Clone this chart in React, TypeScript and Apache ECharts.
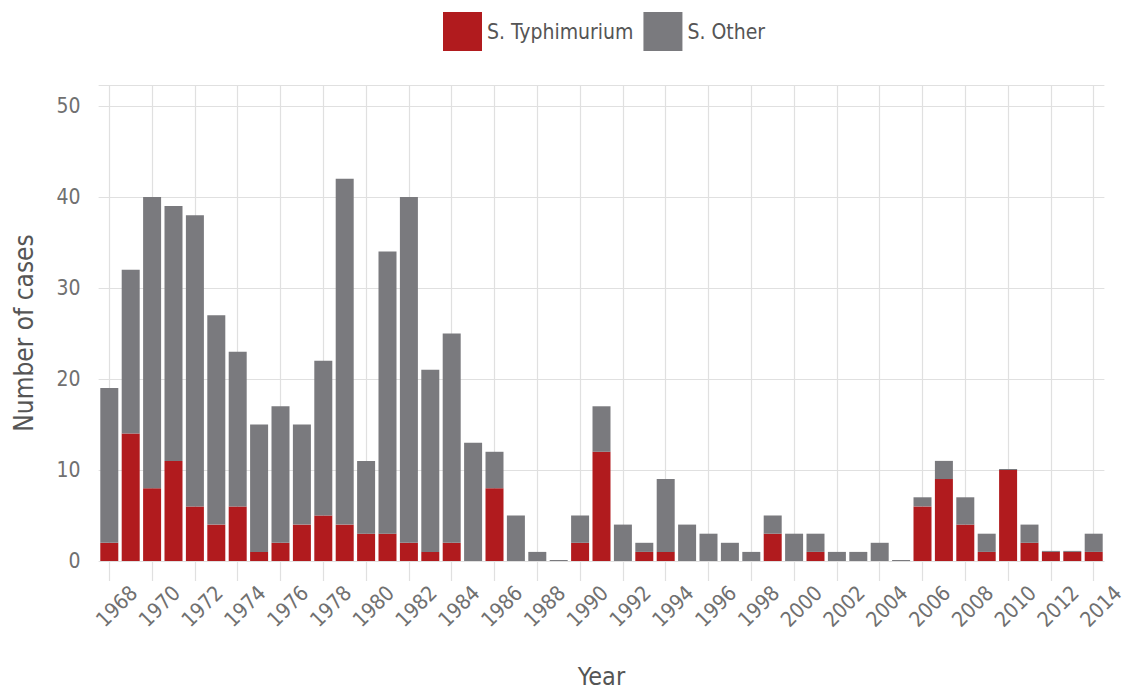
import React, { useEffect, useRef } from "react";
import * as echarts from "echarts";

const years = [
  "1968", "1969", "1970", "1971", "1972", "1973", "1974", "1975", "1976", "1977",
  "1978", "1979", "1980", "1981", "1982", "1983", "1984", "1985", "1986", "1987",
  "1988", "1989", "1990", "1991", "1992", "1993", "1994", "1995", "1996", "1997",
  "1998", "1999", "2000", "2001", "2002", "2003", "2004", "2005", "2006", "2007",
  "2008", "2009", "2010", "2011", "2012", "2013", "2014",
];

const typhimurium = [
  2, 14, 8, 11, 6, 4, 6, 1, 2, 4,
  5, 4, 3, 3, 2, 1, 2, 0, 8, 0,
  0, 0, 2, 12, 0, 1, 1, 0, 0, 0,
  0, 3, 0, 1, 0, 0, 0, 0, 6, 9,
  4, 1, 10, 2, 1, 1, 1,
];

const other = [
  17, 18, 32, 28, 32, 23, 17, 14, 15, 11,
  17, 38, 8, 31, 38, 20, 23, 13, 4, 5,
  1, 0, 3, 5, 4, 1, 8, 4, 3, 2,
  1, 2, 3, 2, 1, 1, 2, 0, 1, 2,
  3, 2, 0, 2, 0, 0, 2,
];

const yTicks = [0, 10, 20, 30, 40, 50];

const FONT = "'DejaVu Sans Condensed', 'DejaVu Sans', sans-serif";
const RED = "#b11b1e";
const GRAY = "#7a7a7e";
const GRID = "#e0e0e0";

export default function App() {
  const ref = useRef<HTMLDivElement>(null);

  useEffect(() => {
    if (!ref.current) return;
    const chart = echarts.init(ref.current, null, { renderer: "svg" });
    chart.setOption({
      animation: false,
      backgroundColor: "#ffffff",
      textStyle: { fontFamily: FONT },
      legend: {
        left: 435,
        top: 4,
        padding: 0,
        itemWidth: 39,
        itemHeight: 39,
        itemGap: 10,
        icon: "rect",
        textStyle: { fontFamily: FONT, fontSize: 21, color: "#555555" },
        data: ["S. Typhimurium", "S. Other"],
      },
      grid: {
        left: 90.6,
        right: 27.6,
        top: 77,
        bottom: 134,
        containLabel: false,
        outerBoundsMode: "none",
      },
      xAxis: {
        type: "category",
        data: years,
        boundaryGap: true,
        name: "Year",
        nameLocation: "middle",
        nameGap: 103,
        nameTextStyle: { fontFamily: FONT, fontSize: 25, color: "#555555" },
        axisLine: { show: false },
        axisTick: {
          show: true,
          alignWithLabel: true,
          interval: 1,
          length: 20,
          lineStyle: { color: GRID, width: 1.2 },
        },
        splitLine: {
          show: true,
          alignWithLabel: true,
          interval: 1,
          lineStyle: { color: GRID, width: 1.2 },
        },
        axisLabel: {
          interval: 1,
          rotate: 45,
          align: "center",
          verticalAlign: "top",
          margin: 38,
          fontFamily: FONT,
          fontSize: 21,
          color: "#707070",
        },
      },
      yAxis: {
        type: "value",
        min: 0,
        max: 52.3,
        interval: 10,
        name: "Number of cases",
        nameLocation: "middle",
        nameGap: 62,
        nameTextStyle: {
          fontFamily: FONT,
          fontSize: 26,
          color: "#555555",
          padding: [0, 20, 0, 0],
        },
        axisLine: { show: false },
        axisTick: { show: false },
        splitLine: { show: true, lineStyle: { color: GRID, width: 1.2 } },
        axisLabel: {
          margin: 18,
          fontFamily: FONT,
          fontSize: 21,
          color: "#707070",
          formatter: (v: number) => (yTicks.includes(v) ? String(v) : ""),
        },
      },
      series: [
        {
          name: "S. Typhimurium",
          type: "bar",
          stack: "total",
          barWidth: 18,
          itemStyle: { color: RED },
          data: typhimurium,
        },
        {
          name: "S. Other",
          type: "bar",
          stack: "total",
          barWidth: 18,
          barMinHeight: 1,
          itemStyle: { color: GRAY },
          data: other,
        },
      ],
    });
    return () => chart.dispose();
  }, []);

  return (
    <div
      ref={ref}
      style={{ width: 1124, height: 687, marginBottom: -8, marginRight: -8 }}
    />
  );
}
